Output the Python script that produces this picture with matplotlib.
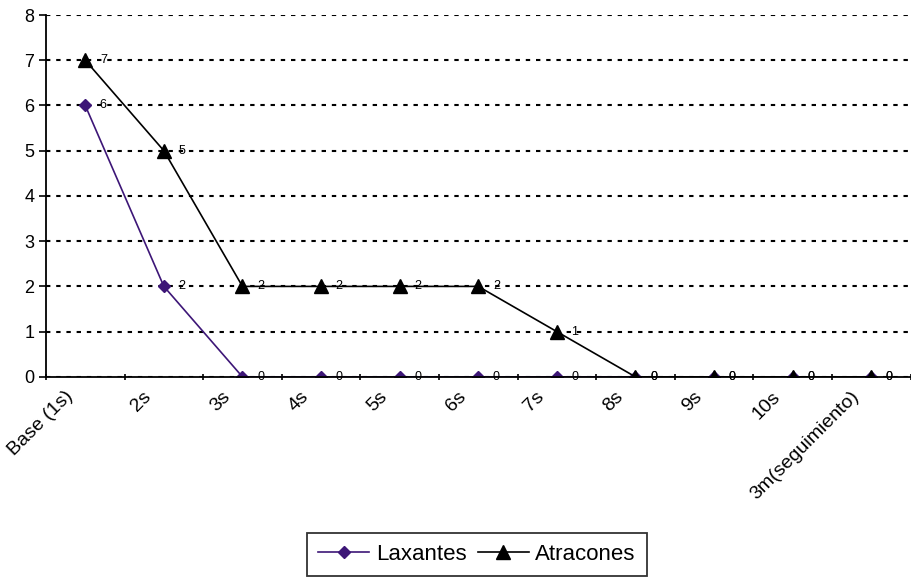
import matplotlib
matplotlib.use("Agg")
import matplotlib.pyplot as plt
import matplotlib.transforms as mtransforms
import numpy as np

categories = ["Base (1s)", "2s", "3s", "4s", "5s", "6s", "7s", "8s", "9s", "10s",
              "3m(seguimiento)"]
laxantes = [6, 2, 0, 0, 0, 0, 0, 0, 0, 0, 0]
atracones = [7, 5, 2, 2, 2, 2, 1, 0, 0, 0, 0]

plt.rcParams['font.family'] = ['Liberation Sans', 'DejaVu Sans']

fig = plt.figure(figsize=(9.12, 5.78), dpi=100)
ax = fig.add_axes([0.0504, 0.348, 0.948, 0.626])

x = np.arange(len(categories))
purple = '#3d1677'

ax.plot(x, laxantes, color=purple, lw=1.2, marker='D', ms=6.5, label='Laxantes')
ax.plot(x, atracones, color='black', lw=1.2, marker='^', ms=9.5, label='Atracones')

for xi, v in zip(x, laxantes):
    ax.annotate(str(v), (xi, v), xytext=(10.5, 0), textcoords='offset points',
                ha='left', va='center', fontsize=9)
for xi, v in zip(x, atracones):
    ax.annotate(str(v), (xi, v), xytext=(10.5, 0), textcoords='offset points',
                ha='left', va='center', fontsize=9)

ax.set_xlim(-0.5, len(categories) - 0.5)
ax.set_ylim(0, 8)
ax.set_yticks(range(0, 9))
ax.tick_params(axis='y', labelsize=13, direction='out', length=5, width=1.2)

# tick marks between categories, labels at centres
ax.set_xticks(np.arange(-0.5, len(categories)), minor=True)
ax.set_xticks(x)
ax.set_xticklabels(categories, rotation=45, ha='right', va='top',
                   rotation_mode='anchor', fontsize=14)
ax.tick_params(axis='x', which='major', length=0, pad=8)
ax.tick_params(axis='x', which='minor', length=5, width=1.2, direction='inout')
shift = mtransforms.ScaledTranslation(-21 / 100, 0, fig.dpi_scale_trans)
for lab in ax.get_xticklabels():
    lab.set_transform(lab.get_transform() + shift)

ax.grid(axis='y', linestyle=(0, (2.1, 2.8)), color='black', lw=1.5)
ax.set_axisbelow(True)
for s in ['top', 'right']:
    ax.spines[s].set_visible(False)
ax.spines['left'].set_linewidth(1.3)
ax.spines['bottom'].set_linewidth(1.3)

leg = fig.legend(loc='lower center', bbox_to_anchor=(0.523, -0.016), ncol=2,
                 fontsize=16, frameon=True, fancybox=False, handlelength=2.3,
                 columnspacing=0.5, handletextpad=0.3, borderpad=0.5)
leg.get_frame().set_edgecolor('black')
leg.get_frame().set_linewidth(1.3)

fig.savefig('out.png', dpi=100)
